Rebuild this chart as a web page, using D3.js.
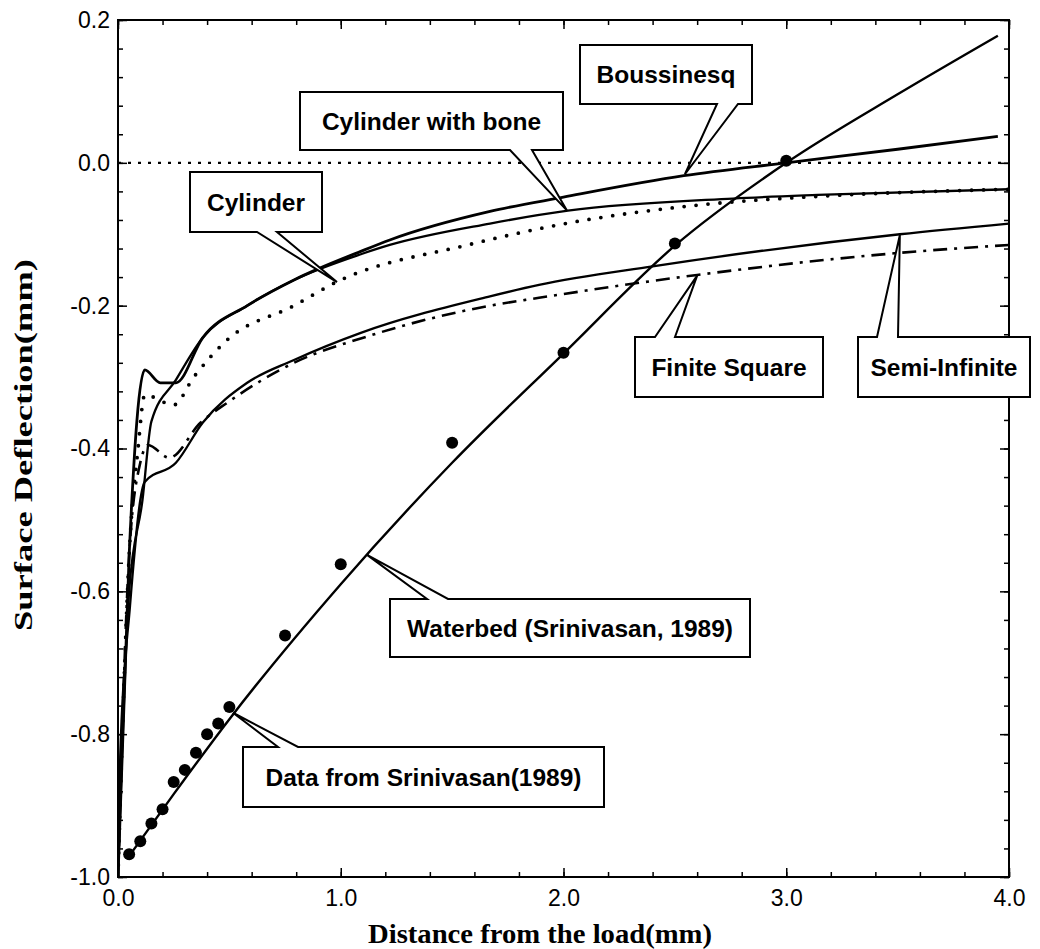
<!DOCTYPE html>
<html>
<head>
<meta charset="utf-8">
<script src="https://cdn.jsdelivr.net/npm/d3@7"></script>
<style>
  html, body { margin: 0; padding: 0; background: #fff; }
  svg { display: block; }
</style>
</head>
<body>
<div id="chart"></div>
<script>
// ---------------- DATA ----------------
const xTickValues = [0, 1, 2, 3, 4];
const xTickLabels = ["0.0", "1.0", "2.0", "3.0", "4.0"];
const yTickValues = [-1.0, -0.8, -0.6, -0.4, -0.2, 0.0, 0.2];
const yTickLabels = ["-1.0", "-0.8", "-0.6", "-0.4", "-0.2", "0.0", "0.2"];

const boussinesq = [[0,-1.0],[0.05,-0.55],[0.12,-0.29],[0.19,-0.308],[0.26,-0.308],[0.38,-0.245],[0.58,-0.200],[0.79,-0.164],[1.09,-0.124],[1.22,-0.108],[1.67,-0.068],[2.0,-0.048],[2.54,-0.018],[3.0,0.0],[3.5,0.019],[3.95,0.037]];
const cylinderBone = [[0,-1.0],[0.05,-0.60],[0.11,-0.472],[0.15,-0.362],[0.26,-0.304],[0.38,-0.245],[0.58,-0.200],[0.79,-0.164],[1.09,-0.128],[1.22,-0.115],[1.67,-0.085],[2.02,-0.067],[2.76,-0.050],[3.14,-0.045],[4.0,-0.037]];
const cylinder = [[0,-1.0],[0.05,-0.55],[0.09,-0.40],[0.12,-0.325],[0.25,-0.339],[0.34,-0.300],[0.49,-0.248],[0.79,-0.200],[0.98,-0.167],[1.57,-0.115],[2.01,-0.085],[2.61,-0.059],[3.14,-0.047],[4.0,-0.037]];
const semiInfinite = [[0,-1.0],[0.01,-0.83],[0.054,-0.62],[0.12,-0.447],[0.26,-0.420],[0.38,-0.364],[0.58,-0.308],[0.79,-0.276],[1.09,-0.238],[1.67,-0.187],[1.89,-0.171],[2.40,-0.145],[3.51,-0.100],[4.0,-0.085]];
const finiteSquare = [[0,-1.0],[0.05,-0.55],[0.10,-0.42],[0.135,-0.395],[0.23,-0.413],[0.37,-0.364],[0.49,-0.336],[0.79,-0.280],[1.12,-0.243],[1.67,-0.200],[1.89,-0.189],[2.60,-0.157],[3.51,-0.126],[4.0,-0.115]];
const waterbed = [[0.04,-0.975],[0.25,-0.884],[0.5,-0.779],[1.0,-0.590],[1.5,-0.420],[2.0,-0.267],[2.5,-0.116],[3.0,0.0],[3.5,0.096],[3.95,0.178]];
const dataX = [0.05,0.10,0.15,0.20,0.25,0.30,0.35,0.40,0.45,0.50,0.75,1.0,1.5,2.0,2.5,3.0];
const dataY = [-0.968,-0.950,-0.925,-0.905,-0.867,-0.850,-0.826,-0.800,-0.785,-0.762,-0.662,-0.562,-0.392,-0.266,-0.113,0.003];
const zeroLine = [[0,0],[4,0]];

// annotation label text and the data point each callout points at
const annotations = [
  { text: "Boussinesq",                 tip: [2.545, -0.016] },
  { text: "Cylinder with bone",         tip: [2.016, -0.067] },
  { text: "Cylinder",                   tip: [0.983, -0.167] },
  { text: "Finite Square",              tip: [2.600, -0.158] },
  { text: "Semi-Infinite",              tip: [3.510, -0.101] },
  { text: "Waterbed (Srinivasan, 1989)",tip: [1.118, -0.549] },
  { text: "Data from Srinivasan(1989)", tip: [0.516, -0.770] }
];

// ---------------- LAYOUT ----------------
const W = 1040, H = 949;
const margin = { left: 118, top: 20, right: 31, bottom: 72 };
const boxLayout = [
  { box: [580, 45, 752, 104],  edge: "bottom", base: [717, 738] },
  { box: [300, 92, 563, 150],  edge: "bottom", base: [510, 532] },
  { box: [190, 172, 322, 232], edge: "bottom", base: [257, 277] },
  { box: [635, 337, 823, 397], edge: "top",    base: [655, 675] },
  { box: [858, 337, 1030, 397],edge: "top",    base: [877, 898] },
  { box: [390, 599, 750, 657], edge: "top",    base: [427, 448] },
  { box: [243, 747, 604, 807], edge: "top",    base: [278, 298] }
];

const svg = d3.select("#chart").append("svg").attr("width", W).attr("height", H);

const x = d3.scaleLinear().domain([0, 4]).range([margin.left, W - margin.right]);
const y = d3.scaleLinear().domain([-1.0, 0.2]).range([H - margin.bottom, margin.top]);

svg.append("defs").append("clipPath").attr("id", "clip")
  .append("rect").attr("x", x(0)).attr("y", y(0.2)).attr("width", x(4) - x(0)).attr("height", y(-1) - y(0.2));

const tickFont = "'Liberation Sans', Arial, Helvetica, sans-serif";

const xMinor = d3.range(0, 4.0001, 0.2);
const yMinor = d3.range(-1.0, 0.2001, 0.04);

function styleAxis(g) {
  g.select(".domain").remove();
  g.selectAll("line").attr("stroke", "#000").attr("stroke-width", 1.5);
  g.selectAll("text").attr("font-family", tickFont).attr("font-size", 23).attr("fill", "#000");
}

// bottom
svg.append("g").attr("transform", `translate(0,${y(-1)})`)
  .call(d3.axisBottom(x).tickValues(xMinor).tickSize(-5).tickFormat("")).call(styleAxis);
svg.append("g").attr("transform", `translate(0,${y(-1)})`)
  .call(d3.axisBottom(x).tickValues(xTickValues).tickSize(-9).tickPadding(13)
    .tickFormat((d, i) => xTickLabels[i])).call(styleAxis);
// top
svg.append("g").attr("transform", `translate(0,${y(0.2)})`)
  .call(d3.axisTop(x).tickValues(xMinor).tickSize(-5).tickFormat("")).call(styleAxis);
svg.append("g").attr("transform", `translate(0,${y(0.2)})`)
  .call(d3.axisTop(x).tickValues(xTickValues).tickSize(-9).tickFormat("")).call(styleAxis);
// left
svg.append("g").attr("transform", `translate(${x(0)},0)`)
  .call(d3.axisLeft(y).tickValues(yMinor).tickSize(-5).tickFormat("")).call(styleAxis);
svg.append("g").attr("transform", `translate(${x(0)},0)`)
  .call(d3.axisLeft(y).tickValues(yTickValues).tickSize(-9).tickPadding(8)
    .tickFormat((d, i) => yTickLabels[i])).call(styleAxis);
// right
svg.append("g").attr("transform", `translate(${x(4)},0)`)
  .call(d3.axisRight(y).tickValues(yMinor).tickSize(-5).tickFormat("")).call(styleAxis);
svg.append("g").attr("transform", `translate(${x(4)},0)`)
  .call(d3.axisRight(y).tickValues(yTickValues).tickSize(-9).tickFormat("")).call(styleAxis);

// frame
svg.append("rect").attr("x", x(0)).attr("y", y(0.2))
  .attr("width", x(4) - x(0)).attr("height", y(-1) - y(0.2))
  .attr("fill", "none").attr("stroke", "#000").attr("stroke-width", 2);

// lines
const line = d3.line().x(d => x(d[0])).y(d => y(d[1])).curve(d3.curveMonotoneX);
const lineLin = d3.line().x(d => x(d[0])).y(d => y(d[1]));
const plot = svg.append("g").attr("clip-path", "url(#clip)");

plot.append("path").datum(zeroLine).attr("d", lineLin).attr("fill", "none")
  .attr("stroke", "#000").attr("stroke-width", 2.4).attr("stroke-dasharray", "3,7");

const series = [
  { data: boussinesq,   w: 2.8, dash: null },
  { data: cylinderBone, w: 2.3, dash: null },
  { data: cylinder,     w: 3.8, dash: "0,12", cap: "round" },
  { data: semiInfinite, w: 2.3, dash: null },
  { data: finiteSquare, w: 2.6, dash: "14,7,3,7" },
  { data: waterbed,     w: 2.4, dash: null }
];
series.forEach(s => {
  plot.append("path").datum(s.data).attr("d", line).attr("fill", "none")
    .attr("stroke", "#000").attr("stroke-width", s.w)
    .attr("stroke-dasharray", s.dash).attr("stroke-linecap", s.cap || "butt")
    .attr("stroke-linejoin", "round");
});

// data dots
plot.selectAll("circle.pt").data(dataX.map((d, i) => [d, dataY[i]])).enter()
  .append("circle").attr("class", "pt")
  .attr("cx", d => x(d[0])).attr("cy", d => y(d[1])).attr("r", 6).attr("fill", "#000");

// callouts
annotations.forEach((a, i) => {
  const L = boxLayout[i];
  const [x0, y0, x1, y1] = L.box;
  const tx = x(a.tip[0]), ty = y(a.tip[1]);
  let pts;
  if (L.edge === "top") {
    pts = [[x0, y0], [L.base[0], y0], [tx, ty], [L.base[1], y0], [x1, y0], [x1, y1], [x0, y1]];
  } else {
    pts = [[x0, y0], [x1, y0], [x1, y1], [L.base[1], y1], [tx, ty], [L.base[0], y1], [x0, y1]];
  }
  svg.append("path").attr("d", "M" + pts.map(p => p.join(",")).join("L") + "Z")
    .attr("fill", "#fff").attr("stroke", "#000").attr("stroke-width", 2).attr("stroke-linejoin", "miter");
  svg.append("text").attr("x", (x0 + x1) / 2).attr("y", (y0 + y1) / 2)
    .attr("text-anchor", "middle").attr("dominant-baseline", "central")
    .attr("font-family", tickFont).attr("font-weight", "bold").attr("font-size", 24.5)
    .text(a.text);
});

// axis titles
const titleFont = "'Liberation Serif', 'Times New Roman', Times, serif";
svg.append("text").attr("x", 540).attr("y", 943)
  .attr("text-anchor", "middle").attr("font-family", titleFont).attr("font-weight", "bold")
  .attr("font-size", 27).attr("textLength", 344).attr("lengthAdjust", "spacingAndGlyphs")
  .text("Distance from the load(mm)");
svg.append("text").attr("transform", `translate(32,${445}) rotate(-90)`)
  .attr("text-anchor", "middle").attr("font-family", titleFont).attr("font-weight", "bold")
  .attr("font-size", 25).attr("textLength", 372).attr("lengthAdjust", "spacingAndGlyphs")
  .text("Surface Deflection(mm)");
</script>
</body>
</html>
